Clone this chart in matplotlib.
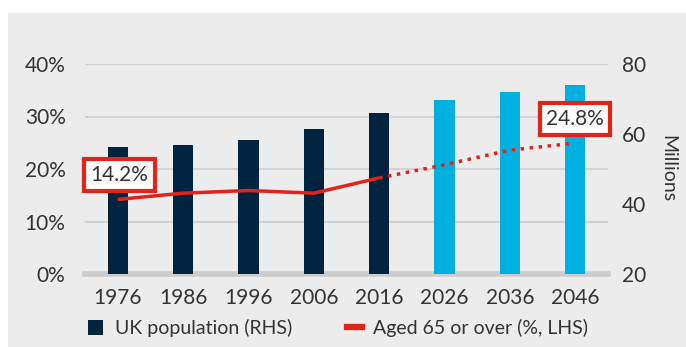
import matplotlib.pyplot as plt
from matplotlib.patches import Patch, Rectangle
from matplotlib.lines import Line2D
import numpy as np

plt.rcParams['font.family'] = ['Lato', 'DejaVu Sans']

years = ['1976', '1986', '1996', '2006', '2016', '2026', '2036', '2046']
population = [56.4, 56.9, 58.3, 61.3, 65.9, 69.7, 71.9, 74.0]   # millions, RHS
aged65 = [14.2, 15.4, 15.9, 15.4, 18.3, 20.8, 23.6, 24.8]       # %, LHS
projected = [False, False, False, False, False, True, True, True]

navy = '#00233f'
cyan = '#00b0e0'
red = '#e2231a'
txt = '#333333'
bg = '#ececec'

fig = plt.figure(figsize=(6.86, 3.47), dpi=100)
fig.patches.append(Rectangle((8 / 686, 0), 1, 1 - 13 / 347, transform=fig.transFigure,
                             facecolor=bg, edgecolor='none', zorder=-10))

ax = fig.add_axes([85 / 686, 1 - 274 / 347, 523 / 686, 210 / 347])
ax.patch.set_visible(False)
x = np.arange(len(years))

ax.set_ylim(0, 40)
ax.set_xlim(-0.5, len(years) - 0.5)
ax.set_yticks([0, 10, 20, 30, 40])
ax.set_yticklabels([f'{v}%' for v in [0, 10, 20, 30, 40]])
ax.yaxis.grid(True, color='#d3d3d3', lw=1.5)
ax.set_axisbelow(True)
ax.set_xticks(x)
ax.set_xticklabels(years)
for s in ax.spines.values():
    s.set_visible(False)
ax.axhline(0, color='#cccccc', lw=4, zorder=1, clip_on=False)
ax.tick_params(length=0, labelsize=15, labelcolor=txt, pad=10)
ax.tick_params(axis='y', pad=14)

ax2 = ax.twinx()
ax2.set_ylim(20, 80)
ax2.set_yticks([20, 40, 60, 80])
for s in ax2.spines.values():
    s.set_visible(False)
ax2.tick_params(length=0, labelsize=15, labelcolor=txt, pad=10)
ax2.set_ylabel('Millions', rotation=270, fontsize=14, color=txt, labelpad=22)

colors = [cyan if p else navy for p in projected]
ax2.bar(x, [p - 20 for p in population], bottom=20, width=0.31, color=colors, zorder=2)

# line drawn on top of bars using left-axis data coordinates
ax2.plot(x[:5], aged65[:5], color=red, lw=2.5, transform=ax.transData, zorder=3,
         solid_capstyle='butt')
ax2.plot(np.r_[x[4:7], 6.9], np.r_[aged65[4:7], aged65[7]], color=red, lw=2.5,
         ls=(0, (1, 1.6)), transform=ax.transData, zorder=3)

box = dict(boxstyle='square,pad=0.3', facecolor='white', edgecolor=red, lw=3)
ax2.text(0.03, 18.9, '14.2%', transform=ax.transData, ha='center', va='center',
         fontsize=15, color=txt, bbox=box, zorder=4)
ax2.text(7.0, 29.5, '24.8%', transform=ax.transData, ha='center', va='center',
         fontsize=15, color=txt, bbox=box, zorder=4)

handles = [Patch(facecolor=navy, edgecolor='none'),
           Line2D([0], [0], color=red, lw=4.5)]
fig.legend(handles, ['UK population (RHS)', 'Aged 65 or over (%, LHS)'],
           loc='center left', bbox_to_anchor=(88 / 686, 1 - 328 / 347), ncol=2,
           frameon=False, fontsize=14, labelcolor=txt, handlelength=0.78,
           handleheight=0.78, handletextpad=0.6, columnspacing=2.8,
           borderpad=0, borderaxespad=0)

fig.savefig('out.png', dpi=100)
